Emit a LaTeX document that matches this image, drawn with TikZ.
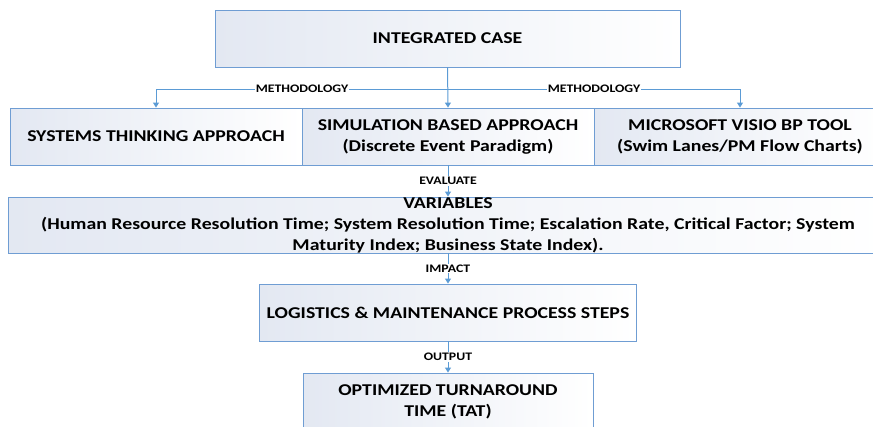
\documentclass[tikz,border=0pt]{standalone}
\usepackage{fontspec}
\setmainfont[FakeStretch=1.2]{Carlito}
\usetikzlibrary{arrows.meta}
\definecolor{edge}{HTML}{6F9DD3}
\definecolor{wire}{HTML}{5B9BD5}
\definecolor{boxfill}{HTML}{E3E8F2}
\begin{document}
\begin{tikzpicture}[x=1pt,y=-1pt,
 box/.style={draw=edge,line width=0.9pt,left color=boxfill,right color=white,minimum height=57pt,inner sep=0pt,align=center,font=\bfseries\fontsize{16.5}{21}\selectfont},
 link/.style={draw=wire,line width=1pt,-{Triangle[length=5pt,width=6pt]}},
 tag/.style={fill=white,inner sep=1pt,font=\bfseries\fontsize{11.5}{12}\selectfont}]
\useasboundingbox (0,0) rectangle (873,426);\clip (0,0) rectangle (873,426);
\node[box,minimum width=465pt] (case) at (447.5,38.5){INTEGRATED CASE};
\node[box,minimum width=292pt] (sys) at (156,136.5){SYSTEMS THINKING APPROACH};
\node[box,minimum width=292pt] (sim) at (448,136.5){SIMULATION BASED APPROACH\\(Discrete Event Paradigm)};
\node[box,minimum width=292pt] (visio) at (740,136.5){MICROSOFT VISIO BP TOOL\\(Swim Lanes/PM Flow Charts)};
\node[box,minimum width=880pt,minimum height=56pt] (vars) at (448,225){VARIABLES\\(Human Resource Resolution Time; System Resolution Time; Escalation Rate, Critical Factor; System\\Maturity Index; Business State Index).};
\node[box,minimum width=377pt] (steps) at (448,312.5){LOGISTICS \& MAINTENANCE PROCESS STEPS};
\node[box,minimum width=290pt] (tat) at (448,401.5){OPTIMIZED TURNAROUND\\TIME (TAT)};
\coordinate (split) at (448,89);
\draw[link] (case.south) -- (sim.north);
\draw[link] (split) -| node[tag,pos=0.25]{METHODOLOGY} (sys.north);
\draw[link] (split) -| node[tag,pos=0.25]{METHODOLOGY} (visio.north);
\draw[link] (sim.south) -- node[tag]{EVALUATE} (vars.north);
\draw[link] (vars.south) -- node[tag]{IMPACT} (steps.north);
\draw[link] (steps.south) -- node[tag]{OUTPUT} (tat.north);
\end{tikzpicture}
\end{document}
